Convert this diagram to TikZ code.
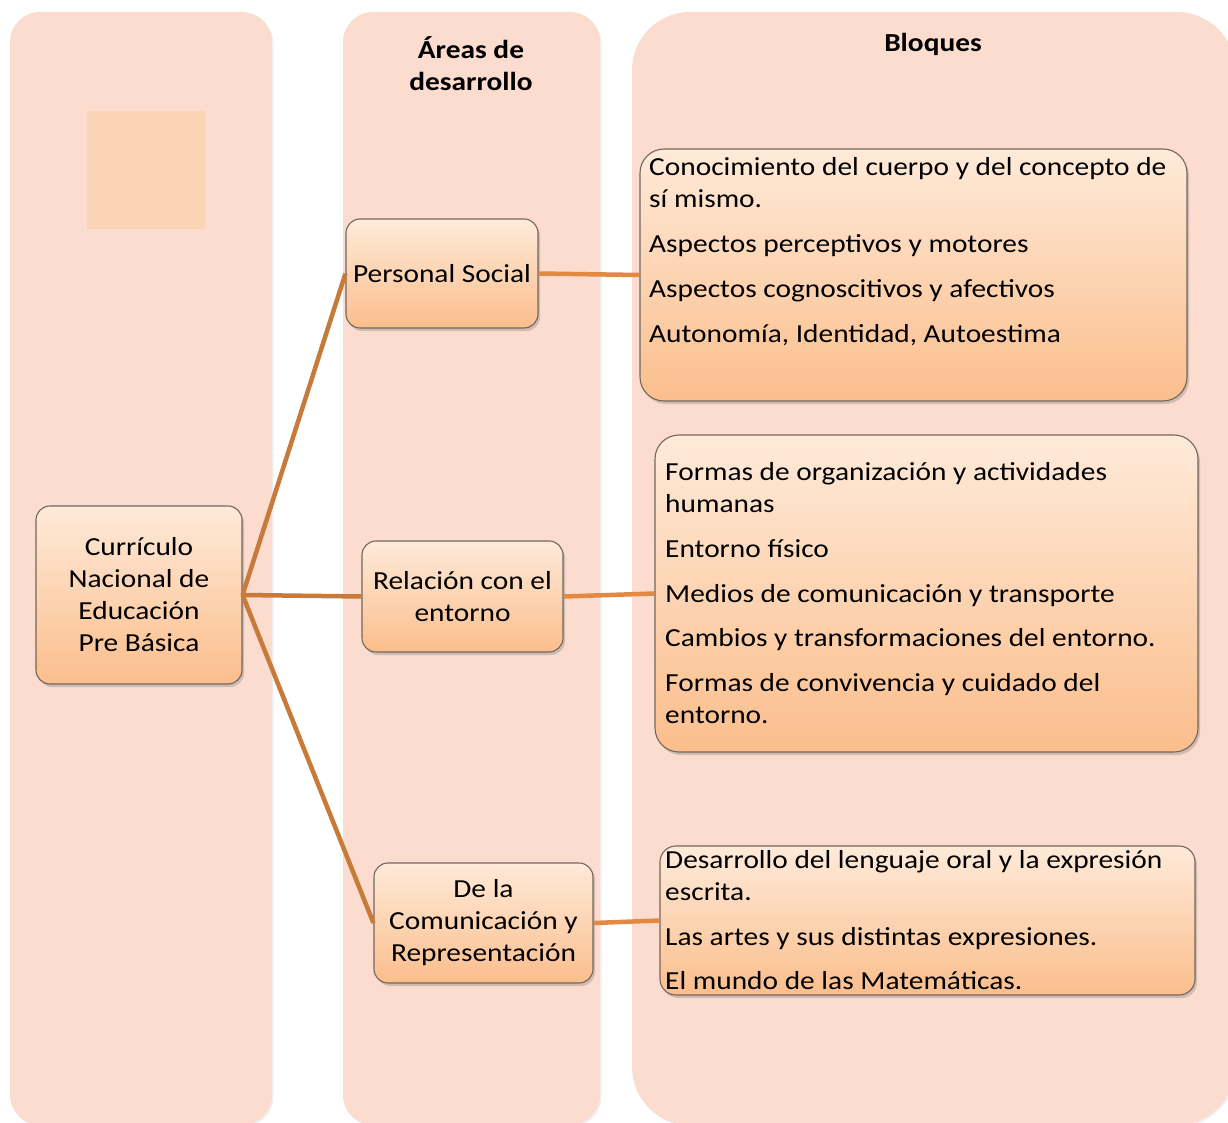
\documentclass[tikz,border=0pt]{standalone}
\usepackage{fontspec}
\setmainfont{Carlito}[FakeStretch=1.13]
\usetikzlibrary{shadows}
\definecolor{colbg}{RGB}{251,220,206}
\definecolor{sqc}{RGB}{251,211,181}
\definecolor{ntop}{RGB}{254,234,217}
\definecolor{nbot}{RGB}{251,190,140}
\definecolor{bordc}{RGB}{115,102,92}
\definecolor{linkdark}{RGB}{200,122,58}
\definecolor{linklight}{RGB}{226,137,66}
\tikzset{
  column/.style={fill=colbg, drop shadow={shadow xshift=1.5pt, shadow yshift=-1.5pt, opacity=0.12}},
  box/.style={draw=bordc, line width=1.1pt, rounded corners=14pt, top color=ntop, bottom color=nbot,
    drop shadow={shadow xshift=2pt, shadow yshift=-3pt, opacity=0.35},
    align=center, inner sep=0pt, font=\fontsize{26}{32}\selectfont},
  bbox/.style={box, rounded corners=24pt},
  line/.style={font=\fontsize{26}{32}\selectfont, anchor=base west, inner sep=0pt},
  hdr/.style={font=\fontsize{26}{32}\selectfont\bfseries, anchor=base, inner sep=0pt},
  linkl/.style={draw=linkdark, line width=4.5pt},
  linkr/.style={draw=linklight, line width=4.5pt}
}
\begin{document}
\begin{tikzpicture}[x=1pt,y=-1pt]
\useasboundingbox (0,0) rectangle (1228,1123);
\clip (0,0) rectangle (1228,1123);
% columns
\path[column, rounded corners=30pt] (10,12) rectangle (272,1125);
\path[column, rounded corners=30pt] (343,12) rectangle (600,1125);
\path[column, rounded corners=58pt] (632,12) rectangle (1235,1125);
\fill[sqc] (87,111) rectangle (205,229);
% headers
\node[hdr] (h1) at (471,59) {Áreas de};
\node[hdr] (h2) at (471,91) {desarrollo};
\node[hdr] (h3) at (933,52) {Bloques};
% main nodes
\node[box, minimum width=206pt, minimum height=178pt] (curr) at (139,595) {Currículo\\Nacional de\\Educación\\Pre Básica};
\node[box, minimum width=192pt, minimum height=109pt] (ps) at (442,273.5) {Personal Social};
\node[box, minimum width=201pt, minimum height=111pt] (rel) at (462.5,596.5) {Relación con el\\entorno};
\node[box, minimum width=219pt, minimum height=120pt] (dela) at (483.5,923) {De la\\Comunicación y\\Representación};
% block boxes
\node[bbox, minimum width=547pt, minimum height=252pt] (b1) at (913.5,275) {};
\node[bbox, minimum width=543pt, minimum height=317pt] (b2) at (926.5,593.5) {};
\node[bbox, minimum width=535pt, minimum height=149pt, rounded corners=16pt] (b3) at (927.5,920.5) {};
% block texts
\node[line] (t11) at (649,176) {Conocimiento del cuerpo y del concepto de};
\node[line] (t12) at (649,208) {sí mismo.};
\node[line] (t13) at (649,253) {Aspectos perceptivos y motores};
\node[line] (t14) at (649,297) {Aspectos cognoscitivos y afectivos};
\node[line] (t15) at (649,342) {Autonomía, Identidad, Autoestima};
\node[line] (t21) at (665,480) {Formas de organización y actividades};
\node[line] (t22) at (665,512) {humanas};
\node[line] (t23) at (665,557) {Entorno físico};
\node[line] (t24) at (665,602) {Medios de comunicación y transporte};
\node[line] (t25) at (665,646) {Cambios y transformaciones del entorno.};
\node[line] (t26) at (665,691) {Formas de convivencia y cuidado del};
\node[line] (t27) at (665,723) {entorno.};
\node[line] (t31) at (665,868) {Desarrollo del lenguaje oral y la expresión};
\node[line] (t32) at (665,900) {escrita.};
\node[line] (t33) at (665,945) {Las artes y sus distintas expresiones.};
\node[line] (t34) at (665,989) {El mundo de las Matemáticas.};
% connectors
\draw[linkl] (curr.east) -- (ps.west);
\draw[linkl] (curr.east) -- (rel.west);
\draw[linkl] (curr.east) -- (dela.west);
\draw[linkr] (ps.east) -- (b1.west);
\draw[linkr] (rel.east) -- (b2.west);
\draw[linkr] (dela.east) -- (b3.west);
\end{tikzpicture}
\end{document}
